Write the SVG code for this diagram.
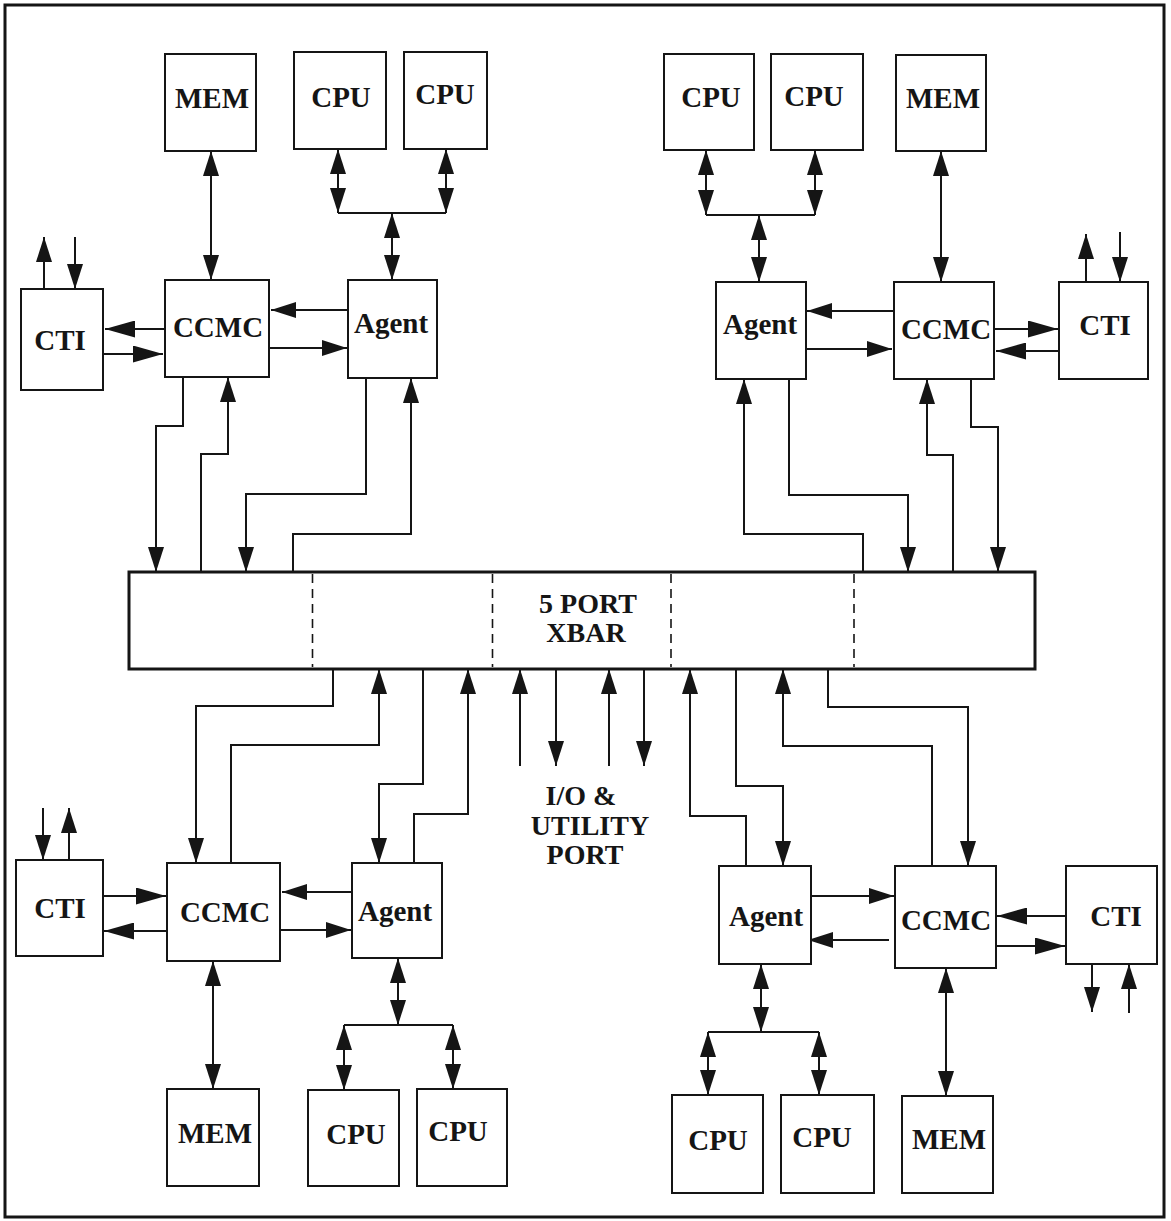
<svg xmlns="http://www.w3.org/2000/svg" width="1171" height="1221" viewBox="0 0 1171 1221">
<style>
.box{fill:#fff;stroke:#151515;stroke-width:2}
.lbl{font-family:"Liberation Serif","Times New Roman",serif;font-weight:bold;font-size:29px;text-anchor:middle;fill:#151515}
.lbl2{font-family:"Liberation Serif","Times New Roman",serif;font-weight:bold;font-size:28px;text-anchor:middle;fill:#151515}
.c{fill:none;stroke:#151515;stroke-width:2}
.e{marker-end:url(#a)}
.d{marker-start:url(#a);marker-end:url(#a)}
.h{marker-end:url(#b)}
</style>
<defs>
<marker id="a" viewBox="0 0 25 16" refX="25" refY="8" markerWidth="25" markerHeight="16" markerUnits="userSpaceOnUse" orient="auto-start-reverse"><path d="M0,0 L25,8 L0,16 z" fill="#151515"/></marker>
<marker id="b" viewBox="0 0 30 17" refX="30" refY="8.5" markerWidth="30" markerHeight="17" markerUnits="userSpaceOnUse" orient="auto-start-reverse"><path d="M0,0 L30,8.5 L0,17 z" fill="#151515"/></marker>
</defs>
<rect x="0" y="0" width="1171" height="1221" fill="#fff"/>
<rect x="5" y="5" width="1159" height="1212" fill="none" stroke="#151515" stroke-width="3"/>

<g id="connectors">
<!-- top left -->
<path class="c d" d="M211,151 V280"/>
<path class="c d" d="M338,149 V213"/>
<path class="c d" d="M446,149 V213"/>
<path class="c" d="M338,213 H446"/>
<path class="c d" d="M392,213 V280"/>
<path class="c e" d="M44,289 V237"/>
<path class="c e" d="M75,237 V289"/>
<path class="c h" d="M165,329 H105"/>
<path class="c h" d="M103,354 H163"/>
<path class="c e" d="M348,310 H271"/>
<path class="c e" d="M269,348 H347"/>
<path class="c e" d="M183,377 V426 H156 V572"/>
<path class="c e" d="M201,572 V454 H228 V377"/>
<path class="c e" d="M366,378 V494 H246 V572"/>
<path class="c e" d="M293,572 V534 H411 V378"/>
<!-- top right -->
<path class="c d" d="M706,150 V215"/>
<path class="c d" d="M815,150 V215"/>
<path class="c" d="M706,215 H815"/>
<path class="c d" d="M759,215 V282"/>
<path class="c d" d="M941,151 V282"/>
<path class="c e" d="M1086,282 V234"/>
<path class="c e" d="M1120,232 V282"/>
<path class="c e" d="M894,311 H807"/>
<path class="c e" d="M806,349 H892"/>
<path class="c h" d="M994,329 H1058"/>
<path class="c h" d="M1059,351 H996"/>
<path class="c e" d="M863,572 V534 H744 V379"/>
<path class="c e" d="M789,379 V495 H908 V572"/>
<path class="c e" d="M953,572 V455 H927 V379"/>
<path class="c e" d="M971,379 V427 H998 V572"/>
<!-- I/O port -->
<path class="c e" d="M520,766 V669"/>
<path class="c e" d="M556,669 V766"/>
<path class="c e" d="M609,766 V669"/>
<path class="c e" d="M644,669 V766"/>
<!-- bottom left -->
<path class="c e" d="M333,669 V706 H196 V863"/>
<path class="c e" d="M231,863 V745 H379 V669"/>
<path class="c e" d="M423,669 V784 H379 V863"/>
<path class="c e" d="M414,863 V814 H468 V669"/>
<path class="c e" d="M43,808 V860"/>
<path class="c e" d="M69,860 V808"/>
<path class="c h" d="M103,896 H166"/>
<path class="c h" d="M167,931 H104"/>
<path class="c e" d="M352,892 H282"/>
<path class="c e" d="M280,930 H351"/>
<path class="c d" d="M213,961 V1089"/>
<path class="c d" d="M398,958 V1025"/>
<path class="c" d="M344,1025 H453"/>
<path class="c d" d="M344,1025 V1090"/>
<path class="c d" d="M453,1025 V1089"/>
<!-- bottom right -->
<path class="c e" d="M746,866 V816 H690 V669"/>
<path class="c e" d="M736,669 V786 H783 V866"/>
<path class="c e" d="M932,866 V746 H783 V669"/>
<path class="c e" d="M828,669 V707 H968 V866"/>
<path class="c e" d="M811,896 H894"/>
<path class="c e" d="M889,940 H808"/>
<path class="c h" d="M1066,916 H997"/>
<path class="c h" d="M996,946 H1065"/>
<path class="c e" d="M1092,964 V1012"/>
<path class="c e" d="M1129,1013 V964"/>
<path class="c d" d="M761,964 V1032"/>
<path class="c" d="M708,1032 H819"/>
<path class="c d" d="M708,1032 V1095"/>
<path class="c d" d="M819,1032 V1095"/>
<path class="c d" d="M946,968 V1096"/>
</g>

<g id="xbar">
<rect x="129" y="572" width="906" height="97" fill="#fff" stroke="#151515" stroke-width="3"/>
<path d="M312.5,574 V667 M492.5,574 V667 M671,574 V667 M854,574 V667" stroke="#151515" stroke-width="1.6" stroke-dasharray="9,6" fill="none"/>
<text class="lbl2" x="588" y="613">5 PORT</text>
<text class="lbl2" x="586" y="642">XBAR</text>
</g>

<g id="io-label">
<text class="lbl2" x="581" y="805">I/O &amp;</text>
<text class="lbl2" x="590" y="835">UTILITY</text>
<text class="lbl2" x="585" y="864">PORT</text>
</g>

<!-- top left -->
<g id="tl-mem"><rect class="box" x="165" y="54" width="91" height="97"/><text class="lbl" x="212" y="108">MEM</text></g>
<g id="tl-cpu1"><rect class="box" x="294" y="52" width="92" height="97"/><text class="lbl" x="341" y="107">CPU</text></g>
<g id="tl-cpu2"><rect class="box" x="404" y="52" width="83" height="97"/><text class="lbl" x="445" y="104">CPU</text></g>
<g id="tl-cti"><rect class="box" x="21" y="289" width="82" height="101"/><text class="lbl" x="60" y="350">CTI</text></g>
<g id="tl-ccmc"><rect class="box" x="165" y="280" width="104" height="97"/><text class="lbl" x="218" y="337">CCMC</text></g>
<g id="tl-agent"><rect class="box" x="348" y="280" width="89" height="98"/><text class="lbl" x="391" y="333">Agent</text></g>

<!-- top right -->
<g id="tr-cpu1"><rect class="box" x="664" y="54" width="90" height="96"/><text class="lbl" x="711" y="107">CPU</text></g>
<g id="tr-cpu2"><rect class="box" x="771" y="54" width="92" height="96"/><text class="lbl" x="814" y="106">CPU</text></g>
<g id="tr-mem"><rect class="box" x="896" y="55" width="90" height="96"/><text class="lbl" x="943" y="108">MEM</text></g>
<g id="tr-agent"><rect class="box" x="716" y="282" width="90" height="97"/><text class="lbl" x="760" y="334">Agent</text></g>
<g id="tr-ccmc"><rect class="box" x="894" y="282" width="100" height="97"/><text class="lbl" x="946" y="339">CCMC</text></g>
<g id="tr-cti"><rect class="box" x="1059" y="282" width="89" height="97"/><text class="lbl" x="1105" y="335">CTI</text></g>

<!-- bottom left -->
<g id="bl-cti"><rect class="box" x="16" y="860" width="87" height="96"/><text class="lbl" x="60" y="918">CTI</text></g>
<g id="bl-ccmc"><rect class="box" x="167" y="863" width="113" height="98"/><text class="lbl" x="225" y="922">CCMC</text></g>
<g id="bl-agent"><rect class="box" x="352" y="863" width="90" height="95"/><text class="lbl" x="395" y="921">Agent</text></g>
<g id="bl-mem"><rect class="box" x="167" y="1089" width="92" height="97"/><text class="lbl" x="215" y="1143">MEM</text></g>
<g id="bl-cpu1"><rect class="box" x="308" y="1090" width="91" height="96"/><text class="lbl" x="356" y="1144">CPU</text></g>
<g id="bl-cpu2"><rect class="box" x="417" y="1089" width="90" height="97"/><text class="lbl" x="458" y="1141">CPU</text></g>

<!-- bottom right -->
<g id="br-agent"><rect class="box" x="719" y="866" width="92" height="98"/><text class="lbl" x="766" y="926">Agent</text></g>
<g id="br-ccmc"><rect class="box" x="895" y="866" width="101" height="102"/><text class="lbl" x="946" y="930">CCMC</text></g>
<g id="br-cti"><rect class="box" x="1066" y="866" width="91" height="98"/><text class="lbl" x="1116" y="926">CTI</text></g>
<g id="br-cpu1"><rect class="box" x="672" y="1095" width="91" height="98"/><text class="lbl" x="718" y="1150">CPU</text></g>
<g id="br-cpu2"><rect class="box" x="781" y="1095" width="93" height="98"/><text class="lbl" x="822" y="1147">CPU</text></g>
<g id="br-mem"><rect class="box" x="902" y="1096" width="91" height="97"/><text class="lbl" x="949" y="1149">MEM</text></g>
</svg>
